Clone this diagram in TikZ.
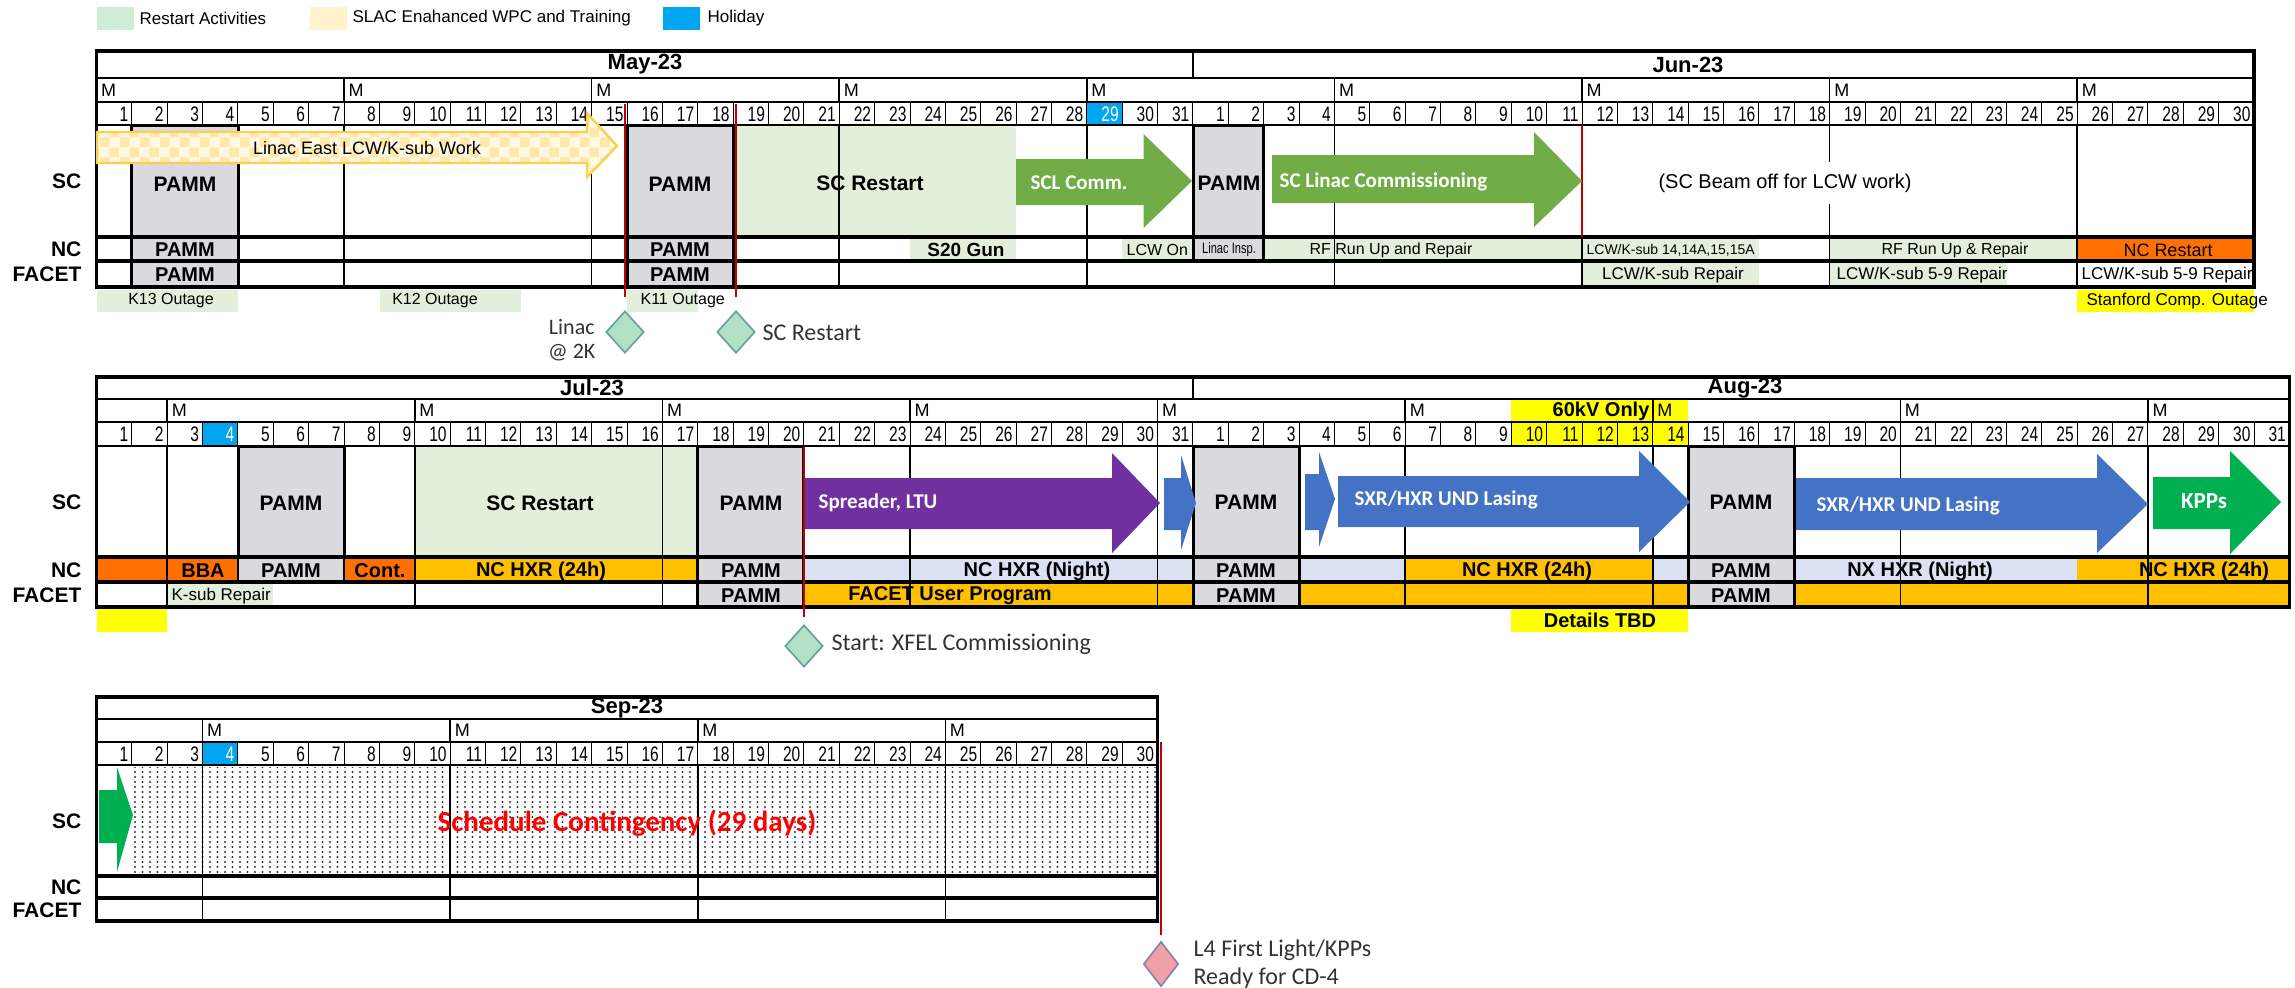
\documentclass[tikz,border=0pt]{standalone}
\usepackage{fontspec}
\setmainfont{Liberation Sans}
\newfontfamily\calib{Carlito}
\newfontfamily\narrowsans[FakeStretch=0.74]{Liberation Sans}
\usetikzlibrary{shapes.geometric,patterns}

\definecolor{restartgreen}{RGB}{226,239,218}
\definecolor{legendgreen}{RGB}{206,236,214}
\definecolor{wpccream}{RGB}{255,242,204}
\definecolor{holidayblue}{RGB}{0,166,240}
\definecolor{pammgray}{RGB}{218,217,222}
\definecolor{ncorange}{RGB}{255,112,0}
\definecolor{hxrgold}{RGB}{255,192,0}
\definecolor{nightlav}{RGB}{218,225,242}
\definecolor{commgreen}{RGB}{112,173,71}
\definecolor{kppgreen}{RGB}{0,176,80}
\definecolor{ltupurple}{RGB}{112,48,160}
\definecolor{lasingblue}{RGB}{68,114,196}
\definecolor{tbdyellow}{RGB}{255,255,0}
\definecolor{linacgold}{RGB}{255,205,80}
\definecolor{checkbase}{RGB}{255,249,228}
\definecolor{checktile}{RGB}{255,232,170}
\definecolor{redmark}{RGB}{192,0,0}
\definecolor{mintfill}{RGB}{178,224,196}
\definecolor{mintdraw}{RGB}{98,160,160}
\definecolor{pinkfill}{RGB}{240,160,166}
\definecolor{pinkdraw}{RGB}{130,130,170}

\pgfdeclarepatternformonly{bigchecker}{\pgfpointorigin}{\pgfqpoint{10pt}{10pt}}{\pgfqpoint{10pt}{10pt}}{%
  \pgfpathrectangle{\pgfpointorigin}{\pgfqpoint{5pt}{5pt}}%
  \pgfpathrectangle{\pgfqpoint{5pt}{5pt}}{\pgfqpoint{5pt}{5pt}}%
  \pgfusepath{fill}}
\pgfdeclarepatternformonly{contdots}{\pgfqpoint{-1pt}{-1pt}}{\pgfqpoint{1pt}{1pt}}{\pgfqpoint{3.75pt}{2.5pt}}{%
  \pgfpathcircle{\pgfpointorigin}{0.55pt}%
  \pgfusepath{fill}}

\tikzset{every picture/.style={line width=0.6pt}}
\tikzset{
  dayline/.style={line width=0.5pt},
  weekline/.style={line width=0.8pt},
  rowline/.style={line width=1.1pt},
  splitline/.style={line width=1.6pt},
  frameline/.style={line width=1.6pt},
  pammframe/.style={line width=1.5pt},
  redmarkline/.style={draw=redmark, line width=1.2pt},
  daynum/.style={font=\narrowsans\fontsize{10.5}{10.5}\selectfont, anchor=east, inner sep=0pt},
  monday/.style={font=\fontsize{9}{9}\selectfont, anchor=west, inner sep=0pt},
  monthlab/.style={font=\bfseries\fontsize{11}{11}\selectfont, inner sep=0pt},
  rowlab/.style={font=\bfseries\fontsize{10.5}{10.5}\selectfont, anchor=east, inner sep=0pt},
  pammlab/.style={font=\bfseries\fontsize{10.5}{10.5}\selectfont, inner sep=0pt},
  boldcell/.style={font=\bfseries\fontsize{10}{10}\selectfont, inner sep=0pt},
  plaincell/.style={font=\fontsize{8.5}{8.5}\selectfont, inner sep=0pt},
  smallcell/.style={font=\fontsize{8}{8}\selectfont, inner sep=0pt},
  arrowlab/.style={font=\calib\bfseries\fontsize{10.5}{10.5}\selectfont, text=white, inner sep=0pt},
  milelab/.style={font=\calib\fontsize{12}{14}\selectfont, text=black!80, inner sep=0pt},
  milestone/.style={diamond, draw=mintdraw, fill=mintfill, line width=0.8pt, minimum width=19pt, minimum height=21pt, inner sep=0pt},
}

\begin{document}
\begin{tikzpicture}[x=0.5pt,y=0.5pt,yscale=-1,xscale=1]
\useasboundingbox (0,0) rectangle (2295,987);

% Legend
\fill[legendgreen] (97,7) rectangle (134,30);
\node[plaincell, anchor=west] (legrestart) at (139,18.5) {Restart Activities};
\fill[wpccream] (310,7) rectangle (347,30);
\node[plaincell, anchor=west] (legwpc) at (352,18.5) {SLAC Enahanced WPC and Training};
\fill[holidayblue] (663,7) rectangle (700,30);
\node[plaincell, anchor=west] (legholiday) at (707,18.5) {Holiday};

%%%%%%%% Table: May-23 / Jun-23
% cell fills
\fill[pammgray] (131.9,125) rectangle (238,287);
\fill[pammgray] (627.1,125) rectangle (733.2,287);
\fill[restartgreen] (733.2,125) rectangle (1016.1,237);
\fill[pammgray] (1193,125) rectangle (1263.7,261);
\fill[restartgreen] (910,237) rectangle (1016.1,261);
\fill[restartgreen] (1122.2,237) rectangle (1193,261);
\fill[restartgreen] (1263.7,237) rectangle (1759,261);
\fill[restartgreen] (1829.6,237) rectangle (2077.2,261);
\fill[ncorange] (2077.2,237) rectangle (2254,261);
\fill[restartgreen] (1582,261) rectangle (1759,287);
\fill[restartgreen] (1829.6,261) rectangle (2006.5,287);
\fill[holidayblue] (1086.9,102) rectangle (1122.2,125);
% outage boxes
\fill[restartgreen] (96.5,290) rectangle (238,312);
\fill[restartgreen] (379.5,290) rectangle (520.9,312);
\fill[restartgreen] (627.1,290) rectangle (697.8,312);
\fill[tbdyellow] (2077.2,290) rectangle (2254,312);

% grid
\foreach \d in {2,...,61} \draw[dayline] ({96.5+(\d-1)*35.37},102) -- ({96.5+(\d-1)*35.37},125);
\foreach \d in {8,15,...,57}{
  \draw[weekline] ({96.5+(\d-1)*35.37},78) -- ({96.5+(\d-1)*35.37},102);
  \draw[weekline] ({96.5+(\d-1)*35.37},125) -- ({96.5+(\d-1)*35.37},287);
}
\draw[weekline] (1193,51) -- (1193,78);
\draw[rowline] (96.5,78) -- (2254,78) (96.5,102) -- (2254,102) (96.5,125) -- (2254,125);
\draw[splitline] (96.5,237) -- (2254,237) (96.5,261) -- (2254,261);
\draw[pammframe] (131.9,125) rectangle (238,287) (627.1,125) rectangle (733.2,287) (1193,125) rectangle (1263.7,261);
\draw[frameline] (96.5,51) rectangle (2254,287);
\draw[redmarkline] (1582,125) -- (1582,237);

% header texts
\node[monthlab] (may) at (645,64.5) {May-23};
\node[monthlab] (jun) at (1688,64.5) {Jun-23};
\foreach \d in {1,8,...,57} \node[monday] (mayjunM\d) at ({96.5+(\d-1)*35.37+4},90) {M};
\foreach \d in {1,...,28,30,31,...,61}{
  \pgfmathtruncatemacro{\n}{\d>31 ? \d-31 : \d}
  \node[daynum] (mayjun\d) at ({96.5+\d*35.37-3},114) {\n};
}
\node[daynum, text=white] (mayjun29) at ({96.5+29*35.37-3},114) {29};

% arrows
\path[fill=checkbase, postaction={pattern=bigchecker, pattern color=checktile}, postaction={draw=linacgold, line width=1.2pt}]
  (97,132) -- (587,132) -- (587,113) -- (617,146) -- (587,177) -- (587,163) -- (97,163) -- cycle;
\fill[commgreen] (1016,159) -- (1143.5,159) -- (1143.5,134) -- (1192,181) -- (1143.5,228) -- (1143.5,205) -- (1016,205) -- cycle;
\fill[commgreen] (1272,155) -- (1534,155) -- (1534,132) -- (1582,181) -- (1534,227) -- (1534,203) -- (1272,203) -- cycle;

% row texts
\node[rowlab] (sc1) at (82,181) {SC};
\node[rowlab] (nc1) at (82,249) {NC};
\node[rowlab] (facet1) at (82,274) {FACET};
\node[font=\fontsize{9}{9}\selectfont, inner sep=0pt] (linaceast) at (367,148) {Linac East LCW/K-sub Work};
\node[pammlab] (pammsc1) at (185,184) {PAMM};
\node[pammlab] (pammsc2) at (680,184) {PAMM};
\node[pammlab] (screstart1) at (870,183) {SC Restart};
\node[arrowlab, anchor=west] (sclcomm) at (1030,183) {SCL Comm.};
\node[pammlab] (pammsc3) at (1229,183) {PAMM};
\node[arrowlab, anchor=west] (sclinac) at (1279,182) {SC Linac Commissioning};
\node[fill=white, font=\fontsize{10}{10}\selectfont, inner xsep=1pt, minimum height=21pt] (beamoff) at (1785,183) {(SC Beam off for LCW work)};
\node[boldcell] (pammnc1) at (185,250) {PAMM};
\node[boldcell] (pammnc2) at (680,250) {PAMM};
\node[font=\bfseries\fontsize{9.5}{9.5}\selectfont, inner sep=0pt] (s20gun) at (966,250) {S20 Gun};
\node[smallcell, anchor=west] (lcwon) at (1126,250) {LCW On};
\node[font=\narrowsans\fontsize{7.5}{7.5}\selectfont, inner sep=0pt] (linacinsp) at (1229,250) {Linac Insp.};
\node[smallcell] (rfrun1) at (1391,250) {RF Run Up and Repair};
\node[font=\fontsize{7}{7}\selectfont, inner sep=0pt, anchor=west] (lcwk1415) at (1586,250) {LCW/K-sub 14,14A,15,15A};
\node[smallcell] (rfrun2) at (1955,250) {RF Run Up \& Repair};
\node[font=\fontsize{9}{9}\selectfont, inner sep=0pt] (ncrestart) at (2168,250) {NC Restart};
\node[boldcell] (pammfa1) at (185,275) {PAMM};
\node[boldcell] (pammfa2) at (680,275) {PAMM};
\node[plaincell] (lcwkrep) at (1673,275) {LCW/K-sub Repair};
\node[plaincell, anchor=west] (lcwk59a) at (1836,275) {LCW/K-sub 5-9 Repair};
\node[plaincell, anchor=west] (lcwk59b) at (2081,275) {LCW/K-sub 5-9 Repair};
\node[smallcell] (k13) at (171,301) {K13 Outage};
\node[smallcell] (k12) at (435,301) {K12 Outage};
\node[smallcell, anchor=west] (k11) at (640,301) {K11 Outage};
\node[plaincell, anchor=west] (stanford) at (2086,301) {Stanford Comp. Outage};

% milestones
\node[milestone] (linac2k) at (625,332) {};
\node[milestone] (screstartms) at (736,332) {};
\coordinate (linacmark) at (625,104);
\coordinate (restartmark) at (736,104);
\draw[redmarkline, shorten >=6.5pt] (linacmark) -- (linac2k.north);
\draw[redmarkline, shorten >=6.5pt] (restartmark) -- (screstartms.north);
\node[milelab, font=\calib\fontsize{11}{12}\selectfont, align=center, anchor=east] (linaclab) at (596,340) {Linac\\@ 2K};
\node[milelab, anchor=west] (screstartlab) at (762,333) {SC Restart};

%%%%%%%% Table: Jul-23 / Aug-23
% cell fills
\fill[pammgray] (238,446) rectangle (344.1,582);
\fill[restartgreen] (414.8,446) rectangle (697.8,557);
\fill[pammgray] (697.8,446) rectangle (803.9,607);
\fill[pammgray] (1193,446) rectangle (1299.1,607);
\fill[pammgray] (1688.2,446) rectangle (1794.3,607);
\fill[ncorange] (96.5,557) rectangle (238,582);
\fill[ncorange] (344.1,557) rectangle (414.8,582);
\fill[hxrgold] (414.8,557) rectangle (697.8,582);
\fill[nightlav] (803.9,557) rectangle (1193,582);
\fill[nightlav] (1299.1,557) rectangle (1405.2,582);
\fill[hxrgold] (1405.2,557) rectangle (1652.8,582);
\fill[nightlav] (1652.8,557) rectangle (1688.2,582);
\fill[nightlav] (1794.3,557) rectangle (2077.2,582);
\fill[hxrgold] (2077.2,557) rectangle (2289.4,582);
\fill[restartgreen] (167.2,582) rectangle (273.4,607);
\fill[hxrgold] (803.9,582) rectangle (1193,607);
\fill[hxrgold] (1299.1,582) rectangle (1688.2,607);
\fill[hxrgold] (1794.3,582) rectangle (2289.4,607);
\fill[holidayblue] (202.6,422) rectangle (238,446);
\fill[tbdyellow] (1511.3,399) rectangle (1688.2,446);
\fill[tbdyellow] (96.5,607) rectangle (167.2,632);
\fill[tbdyellow] (1511.3,607) rectangle (1688.2,632);

% grid
\foreach \d in {2,...,62} \draw[dayline] ({96.5+(\d-1)*35.37},422) -- ({96.5+(\d-1)*35.37},446);
\foreach \d in {3,10,...,59}{
  \draw[weekline] ({96.5+(\d-1)*35.37},399) -- ({96.5+(\d-1)*35.37},422);
  \draw[weekline] ({96.5+(\d-1)*35.37},446) -- ({96.5+(\d-1)*35.37},607);
}
\draw[weekline] (1193,377) -- (1193,399);
\draw[weekline] (238,557) -- (238,582) (344.1,557) -- (344.1,582);
\draw[rowline] (96.5,399) -- (2289.4,399) (96.5,422) -- (2289.4,422) (96.5,446) -- (2289.4,446);
\draw[splitline] (96.5,557) -- (2289.4,557) (96.5,582) -- (2289.4,582);
\draw[pammframe] (238,446) rectangle (344.1,557) (697.8,446) rectangle (803.9,607) (1193,446) rectangle (1299.1,607) (1688.2,446) rectangle (1794.3,607);
\draw[frameline] (96.5,377) rectangle (2289.4,607);

% header texts
\node[monthlab] (jul) at (592,388) {Jul-23};
\node[monthlab] (aug) at (1745,388) {Aug-23};
\foreach \d in {3,10,...,59} \node[monday] (julaugM\d) at ({96.5+(\d-1)*35.37+4},410.5) {M};
\node[boldcell, anchor=east] (sixtykv) at (1650,411) {60kV Only};
\foreach \d in {1,2,3,5,6,...,62}{
  \pgfmathtruncatemacro{\n}{\d>31 ? \d-31 : \d}
  \node[daynum] (julaug\d) at ({96.5+\d*35.37-3},434) {\n};
}
\node[daynum, text=white] (julaug4) at ({96.5+4*35.37-3},434) {4};

% arrows
\fill[ltupurple] (804,478) -- (1112,478) -- (1112,453) -- (1160,503) -- (1112,553) -- (1112,529) -- (804,529) -- cycle;
\fill[lasingblue] (1164,478) -- (1181,478) -- (1181,455) -- (1196,503) -- (1181,550) -- (1181,530) -- (1164,530) -- cycle;
\fill[lasingblue] (1305,474) -- (1319,474) -- (1319,452) -- (1335,499) -- (1319,547) -- (1319,530) -- (1305,530) -- cycle;
\fill[lasingblue] (1338,476) -- (1639,476) -- (1639,451) -- (1690,502) -- (1639,552) -- (1639,527) -- (1338,527) -- cycle;
\fill[lasingblue] (1796,478) -- (2097,478) -- (2097,454) -- (2148,504) -- (2097,553) -- (2097,530) -- (1796,530) -- cycle;
\fill[kppgreen] (2153,477) -- (2230,477) -- (2230,451) -- (2281,502) -- (2230,554) -- (2230,529) -- (2153,529) -- cycle;

% row texts
\node[rowlab] (sc2) at (82,502) {SC};
\node[rowlab] (nc2) at (82,570) {NC};
\node[rowlab] (facet2) at (82,595) {FACET};
\node[pammlab] (pammsc4) at (291,503) {PAMM};
\node[pammlab] (screstart2) at (540,503) {SC Restart};
\node[pammlab] (pammsc5) at (751,503) {PAMM};
\node[arrowlab, anchor=west] (spreader) at (818,503) {Spreader, LTU};
\node[pammlab] (pammsc6) at (1246,502) {PAMM};
\node[arrowlab, anchor=west] (lasing1) at (1354,500) {SXR/HXR UND Lasing};
\node[pammlab] (pammsc7) at (1741,502) {PAMM};
\node[arrowlab, anchor=west] (lasing2) at (1816,506) {SXR/HXR UND Lasing};
\node[arrowlab, font=\calib\bfseries\fontsize{11.5}{11.5}\selectfont] (kpps) at (2204,501) {KPPs};
\node[boldcell] (bba) at (203,571) {BBA};
\node[boldcell] (pammnc3) at (291,571) {PAMM};
\node[boldcell] (cont) at (380,571) {Cont.};
\node[boldcell] (hxr1) at (541,571) {NC HXR (24h)};
\node[boldcell] (pammnc4) at (751,571) {PAMM};
\node[boldcell] (night1) at (1037,571) {NC HXR (Night)};
\node[boldcell] (pammnc5) at (1246,571) {PAMM};
\node[boldcell] (hxr2) at (1527,571) {NC HXR (24h)};
\node[boldcell] (pammnc6) at (1741,571) {PAMM};
\node[boldcell] (night2) at (1920,571) {NX HXR (Night)};
\node[boldcell] (hxr3) at (2204,571) {NC HXR (24h)};
\node[plaincell, anchor=west] (ksubrep) at (171,596) {K-sub Repair};
\node[boldcell] (pammfa3) at (751,596) {PAMM};
\node[boldcell] (facetuser) at (950,596) {FACET User Program};
\node[boldcell] (pammfa4) at (1246,596) {PAMM};
\node[boldcell] (pammfa5) at (1741,596) {PAMM};
\node[boldcell] (tbd) at (1600,620) {Details TBD};

% milestone
\node[milestone] (xfelstart) at (804,646) {};
\coordinate (xfelmark) at (804,447);
\draw[redmarkline, shorten >=3.5pt] (xfelmark) -- (xfelstart.north);
\node[milelab, anchor=west] (xfellab) at (831,644) {Start: XFEL Commissioning};

%%%%%%%% Table: Sep-23
\fill[pattern=contdots, pattern color=black!80] (131.9,767) rectangle (1157.6,874);
\fill[holidayblue] (202.6,742) rectangle (238,765);
\foreach \d in {2,...,30} \draw[dayline] ({96.5+(\d-1)*35.37},742) -- ({96.5+(\d-1)*35.37},765);
\foreach \d in {4,11,18,25}{
  \draw[weekline] ({96.5+(\d-1)*35.37},719) -- ({96.5+(\d-1)*35.37},742);
  \draw[weekline] ({96.5+(\d-1)*35.37},765) -- ({96.5+(\d-1)*35.37},921);
}
\draw[rowline] (96.5,719) -- (1157.6,719) (96.5,742) -- (1157.6,742) (96.5,765) -- (1157.6,765);
\draw[splitline] (96.5,876) -- (1157.6,876) (96.5,898) -- (1157.6,898);
\draw[frameline] (96.5,697) rectangle (1157.6,921);

\node[monthlab] (sep) at (627,708) {Sep-23};
\foreach \d in {4,11,18,25} \node[monday] (sepM\d) at ({96.5+(\d-1)*35.37+4},730.5) {M};
\foreach \d in {1,2,3,5,6,...,30} \node[daynum] (sep\d) at ({96.5+\d*35.37-3},754) {\d};
\node[daynum, text=white] (sep4) at ({96.5+4*35.37-3},754) {4};

\fill[kppgreen] (99,790) -- (117,790) -- (117,767) -- (133,815) -- (117,872) -- (117,843) -- (99,843) -- cycle;

\node[rowlab] (sc3) at (82,821) {SC};
\node[rowlab] (nc3) at (82,887) {NC};
\node[rowlab] (facet3) at (82,910) {FACET};
\node[font=\calib\bfseries\fontsize{14.5}{14.5}\selectfont, text=red, inner sep=0pt] (contingency) at (627,823) {Schedule Contingency (29 days)};

% milestone
\node[milestone, draw=pinkdraw, fill=pinkfill, minimum width=17.5pt, minimum height=22.5pt] (l4light) at (1161,964) {};
\coordinate (l4mark) at (1161,742);
\draw[redmarkline, shorten >=3pt] (l4mark) -- (l4light.north);
\node[milelab, align=left, anchor=west] (l4lab) at (1193,964) {L4 First Light/KPPs\\Ready for CD-4};

\end{tikzpicture}
\end{document}
